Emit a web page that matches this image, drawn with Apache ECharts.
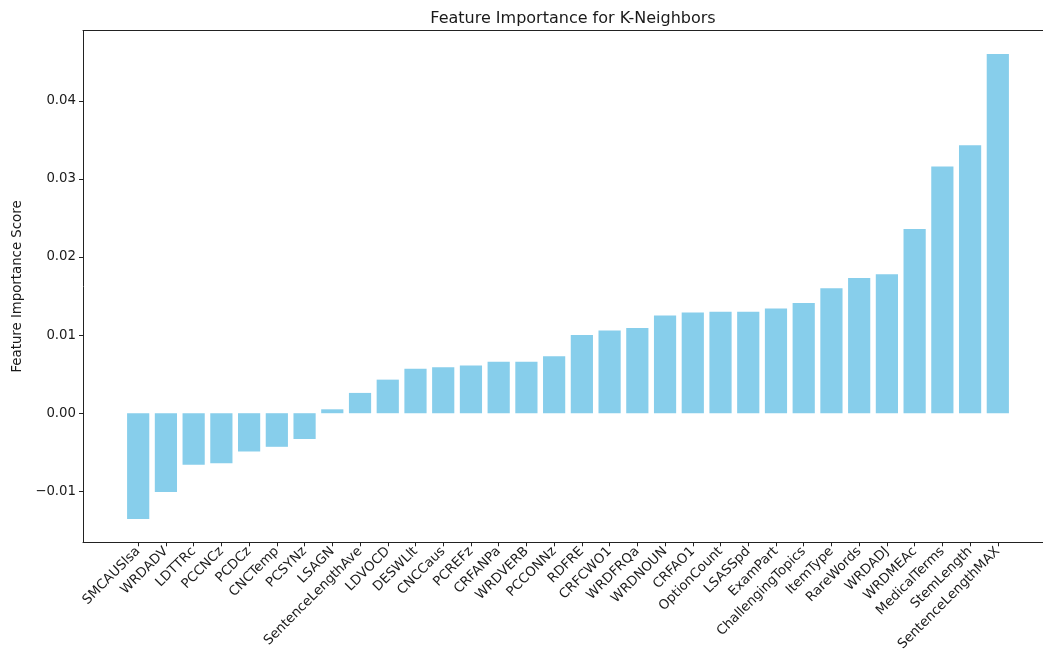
<!DOCTYPE html>
<html>
<head>
<meta charset="utf-8">
<script src="https://cdn.jsdelivr.net/npm/echarts@6/dist/echarts.min.js"></script>
<style>
  html, body { margin: 0; padding: 0; background: #fff; }
  #chart { width: 1043px; height: 659px; }
</style>
</head>
<body>
<div id="chart"></div>
<script>
// Features, sorted by permutation importance (ascending)
const features = [
  'SMCAUSlsa', 'WRDADV', 'LDTTRc', 'PCCNCz', 'PCDCz', 'CNCTemp', 'PCSYNz', 'LSAGN',
  'SentenceLengthAve', 'LDVOCD', 'DESWLlt', 'CNCCaus', 'PCREFz', 'CRFANPa', 'WRDVERB',
  'PCCONNz', 'RDFRE', 'CRFCWO1', 'WRDFRQa', 'WRDNOUN', 'CRFAO1', 'OptionCount', 'LSASSpd',
  'ExamPart', 'ChallengingTopics', 'ItemType', 'RareWords', 'WRDADJ', 'WRDMEAc',
  'MedicalTerms', 'StemLength', 'SentenceLengthMAX'
];

const importance = [
  -0.01355, -0.0101, -0.0066, -0.0064, -0.0049, -0.0043, -0.0033, 0.0005,
  0.0026, 0.0043, 0.0057, 0.0059, 0.0061, 0.0066, 0.0066,
  0.0073, 0.0100, 0.0106, 0.0109, 0.0125, 0.0129, 0.0130, 0.0130,
  0.0134, 0.0141, 0.0160, 0.0173, 0.0178, 0.0236,
  0.0316, 0.0343, 0.0460
];

const yTicks = [-0.01, 0.00, 0.01, 0.02, 0.03, 0.04];

const titleText = 'Feature Importance for K-Neighbors';
const yAxisTitle = 'Feature Importance Score';

// plot box: 970px wide, of which only the first 960px fit on the page
const PLOT_LEFT = 83;
const PLOT_W = 970;
const PAGE_W = 1043;
const SHOWN_W = PAGE_W - PLOT_LEFT;

// axis limits with a 5% margin around the data, bar slots of width 0.8
const yLo = Math.min(0, ...importance);
const yHi = Math.max(0, ...importance);
const yPad = 0.05 * (yHi - yLo);
const xLo = -0.4, xHi = features.length - 1 + 0.4;
const xPad = 0.05 * (xHi - xLo);
const xMin = xLo - xPad;
const xMaxFull = xHi + xPad;
const xMaxShown = xMin + (xMaxFull - xMin) * SHOWN_W / PLOT_W;

const positions = features.map((_, i) => i);
const barData = importance.map((v, i) => [i, v]);

const fmtTick = v => {
  const s = Math.abs(v).toFixed(2);
  return v < -1e-9 ? '\u2212' + s : s;
};

const FONT = 'DejaVu Sans';
const TEXT = '#1a1a1a';
const FRAME = '#222';
const LABEL_SIZE = 13.3;

const chart = echarts.init(document.getElementById('chart'), null, { renderer: 'canvas' });

chart.setOption({
  backgroundColor: '#ffffff',
  animation: false,
  title: {
    text: titleText,
    left: PLOT_LEFT + PLOT_W / 2,
    top: 6,
    textAlign: 'center',
    textStyle: { fontFamily: FONT, fontSize: 16, fontWeight: 'normal', color: TEXT }
  },
  grid: {
    left: PLOT_LEFT, right: 0, top: 30.7, bottom: 116.7,
    show: false, containLabel: false
  },
  xAxis: [{
    type: 'value',
    min: xMin,
    max: xMaxShown,
    splitLine: { show: false },
    axisLine: { show: true, onZero: false, lineStyle: { color: FRAME, width: 1 } },
    axisTick: {
      show: true, length: 4, customValues: positions,
      lineStyle: { color: FRAME, width: 1 }
    },
    axisLabel: {
      show: true, rotate: 45, margin: 7, customValues: positions,
      formatter: v => features[Math.round(v)] || '',
      fontFamily: FONT, fontSize: LABEL_SIZE, color: TEXT, hideOverlap: false
    }
  }, {
    // top edge of the frame
    type: 'value',
    position: 'top',
    min: xMin,
    max: xMaxShown,
    splitLine: { show: false },
    axisLine: { show: true, onZero: false, lineStyle: { color: FRAME, width: 1 } },
    axisTick: { show: false },
    axisLabel: { show: false }
  }],
  yAxis: {
    type: 'value',
    min: yLo - yPad,
    max: yHi + yPad,
    name: yAxisTitle,
    nameLocation: 'middle',
    nameGap: 58,
    nameRotate: 90,
    nameTextStyle: { fontFamily: FONT, fontSize: LABEL_SIZE, color: TEXT },
    splitLine: { show: false },
    axisLine: { show: true, onZero: false, lineStyle: { color: FRAME, width: 1 } },
    axisTick: {
      show: true, length: 4, customValues: yTicks,
      lineStyle: { color: FRAME, width: 1 }
    },
    axisLabel: {
      show: true, margin: 7, customValues: yTicks,
      formatter: fmtTick,
      fontFamily: FONT, fontSize: LABEL_SIZE, color: TEXT
    }
  },
  series: [{
    type: 'bar',
    data: barData,
    barWidth: 22.2,
    itemStyle: { color: '#87CEEB' },
    emphasis: { disabled: true }
  }]
});
</script>
</body>
</html>
